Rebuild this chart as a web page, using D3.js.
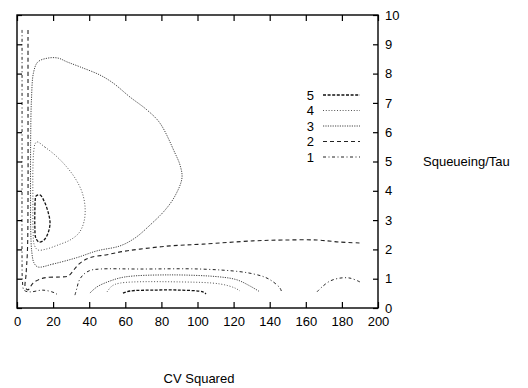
<!DOCTYPE html>
<html><head><meta charset="utf-8">
<script src="https://cdn.jsdelivr.net/npm/d3@7"></script>
<style>
html,body{margin:0;padding:0;background:#fff;}
text{font-family:"Liberation Sans",Arial,Helvetica,sans-serif;}
</style></head>
<body><svg id="c" width="528" height="388"></svg>
<script>
// ---- data (x = CV squared, y = Squeueing/Tau) ----
const xTicks = [0,20,40,60,80,100,120,140,160,180,200];
const yTicks = [0,1,2,3,4,5,6,7,8,9,10];
const legendLevels = ["5","4","3","2","1"];
const xTitle = "CV Squared";
const yTitle = "Squeueing/Tau";

const level5Loop = [[10.5,3.82],[12.7,3.86],[15.0,3.65],[17.2,3.28],[18.3,2.90],[17.2,2.56],[15.0,2.32],[12.2,2.25],[10.4,2.39],[9.9,2.76],[9.9,3.34],[10.1,3.69]];
const level5Arch = [[58.7,0.51],[62.6,0.58],[75.3,0.61],[90.3,0.61],[103.0,0.55],[104.7,0.48]];

const level4Loop = [[11.1,5.67],[15.5,5.49],[21.1,5.22],[26.6,4.88],[32.1,4.44],[36.0,3.96],[37.7,3.45],[37.1,2.94],[34.3,2.56],[29.4,2.32],[22.7,2.15],[16.1,2.01],[11.6,1.98],[9.6,2.15],[8.9,2.66],[8.8,3.69],[8.8,4.71],[9.2,5.3],[10.0,5.6]];
const level4Arch = [[49.9,0.55],[52.6,0.75],[57.1,0.85],[90.3,0.89],[112.5,0.82],[120.8,0.68],[123.5,0.58]];

const level3Loop = [[11.6,1.40],[19.9,1.50],[33.2,1.72],[44.3,1.95],[57.1,2.12],[65.4,2.39],[73.7,2.83],[82.0,3.34],[87.5,3.82],[91.4,4.44],[90.3,4.88],[87.5,5.29],[79.2,6.31],[72.0,6.76],[62.6,7.20],[53.2,7.68],[46.0,7.95],[34.9,8.23],[27.7,8.40],[22.7,8.53],[17.2,8.53],[11.6,8.40],[9.2,8.05],[8.0,7.10],[7.6,5.97],[7.5,5.05],[7.5,3.69],[7.6,2.66],[8.2,1.91],[9.4,1.54]];
const level3Arch = [[40.4,0.51],[44.3,0.72],[51.5,0.92],[59.8,1.06],[84.8,1.13],[112.5,1.06],[121.9,0.96],[129.1,0.75],[134.6,0.55]];

const level2Line = [[6.1,9.49],[6.1,7.10],[6.1,3.69],[5.8,1.98],[5.0,1.13],[4.6,0.70],[6.1,0.62],[8.9,0.85],[14.4,1.02],[23.8,1.06],[28.3,1.09],[31.0,1.26],[33.2,1.43],[36.0,1.58],[40.4,1.72],[49.9,1.82],[58.7,1.93],[68.1,2.01],[84.8,2.12],[103.0,2.18],[130.7,2.29],[147.4,2.32],[166.2,2.32],[178.9,2.25],[190.0,2.22]];

const level1Left = [[2.8,9.49],[2.8,5.4],[2.8,1.64],[3.0,0.96],[3.9,0.61],[7.2,0.55],[14.4,0.61],[21.1,0.51],[23.0,0.42]];
const level1Arch = [[32.1,0.44],[33.2,0.68],[34.3,0.92],[36.6,1.13],[40.4,1.28],[46.0,1.33],[68.1,1.33],[101.4,1.33],[123.5,1.24],[131.9,1.15],[137.4,1.05],[141.3,0.92],[145.7,0.68],[146.8,0.51]];
const level1Right = [[166.2,0.55],[169.0,0.72],[173.4,0.92],[178.9,1.02],[184.5,1.02],[190.0,0.89]];

// ---- styles ----
const styles = {
  "5": {dash:"3,1.6", w:1.3, c:"#111"},
  "4": {dash:"1,1.8", w:1.0, c:"#555"},
  "3": {dash:"1.2,1.2", w:1.0, c:"#444"},
  "2": {dash:"4,3", w:1.1, c:"#222"},
  "1": {dash:"3,2.5,1,2.5", w:1.0, c:"#222"}
};

const svg = d3.select("#c");
const L=17, R=378, T=15, B=308;
const x = d3.scaleLinear().domain([0,200]).range([L,R]);
const y = d3.scaleLinear().domain([0,10]).range([B,T]);

const open = d3.line().x(d=>x(d[0])).y(d=>y(d[1])).curve(d3.curveCatmullRom.alpha(0.5));
const closed = d3.line().x(d=>x(d[0])).y(d=>y(d[1])).curve(d3.curveCatmullRomClosed.alpha(0.5));

const paths = [
  ["5", level5Loop, true], ["5", level5Arch, false],
  ["4", level4Loop, true], ["4", level4Arch, false],
  ["3", level3Loop, true], ["3", level3Arch, false],
  ["2", level2Line, false],
  ["1", level1Left, false], ["1", level1Arch, false], ["1", level1Right, false]
];
const g = svg.append("g");
paths.forEach(([lv, pts, cl])=>{
  const s = styles[lv];
  g.append("path").attr("d", (cl?closed:open)(pts))
    .attr("fill","none").attr("stroke",s.c).attr("stroke-width",s.w)
    .attr("stroke-dasharray",s.dash);
});

// axes
const fs = "13px";
const bx = svg.append("g").attr("transform",`translate(0,${B})`)
  .call(d3.axisBottom(x).tickValues(xTicks).tickSizeInner(-6).tickSizeOuter(0).tickPadding(9));
const tx = svg.append("g").attr("transform",`translate(0,${T})`)
  .call(d3.axisTop(x).tickValues(xTicks).tickSizeInner(-6).tickSizeOuter(0).tickFormat(""));
const lx = svg.append("g").attr("transform",`translate(${L},0)`)
  .call(d3.axisLeft(y).tickValues(yTicks).tickSizeInner(-5).tickSizeOuter(0).tickFormat(""));
const rx = svg.append("g").attr("transform",`translate(${R},0)`)
  .call(d3.axisRight(y).tickValues(yTicks).tickSizeInner(-5).tickSizeOuter(0).tickPadding(7));
[bx,tx,lx,rx].forEach(a=>{
  a.select(".domain").remove();
  a.selectAll("line").attr("stroke","#000").attr("stroke-width",1.2);
  a.selectAll("text").attr("font-size",fs).attr("fill","#000")
    .attr("font-family","'Liberation Sans',Arial,sans-serif");
});

svg.append("rect").attr("x",L).attr("y",T).attr("width",R-L).attr("height",B-T)
  .attr("fill","none").attr("stroke","#000").attr("stroke-width",1.4);

// legend
const lg = svg.append("g");
legendLevels.forEach((lv,i)=>{
  const yy = 95 + i*15.5;
  const s = styles[lv];
  lg.append("text").attr("x",314).attr("y",yy).attr("dy","0.35em")
    .attr("text-anchor","end").attr("font-size",fs).text(lv);
  lg.append("line").attr("x1",323).attr("x2",360).attr("y1",yy).attr("y2",yy)
    .attr("stroke",s.c).attr("stroke-width",s.w).attr("stroke-dasharray",s.dash);
});

// titles
svg.append("text").attr("x",423).attr("y",166).attr("font-size",fs).text(yTitle);
svg.append("text").attr("x",199).attr("y",383).attr("text-anchor","middle").attr("font-size",fs).text(xTitle);
</script></body></html>
